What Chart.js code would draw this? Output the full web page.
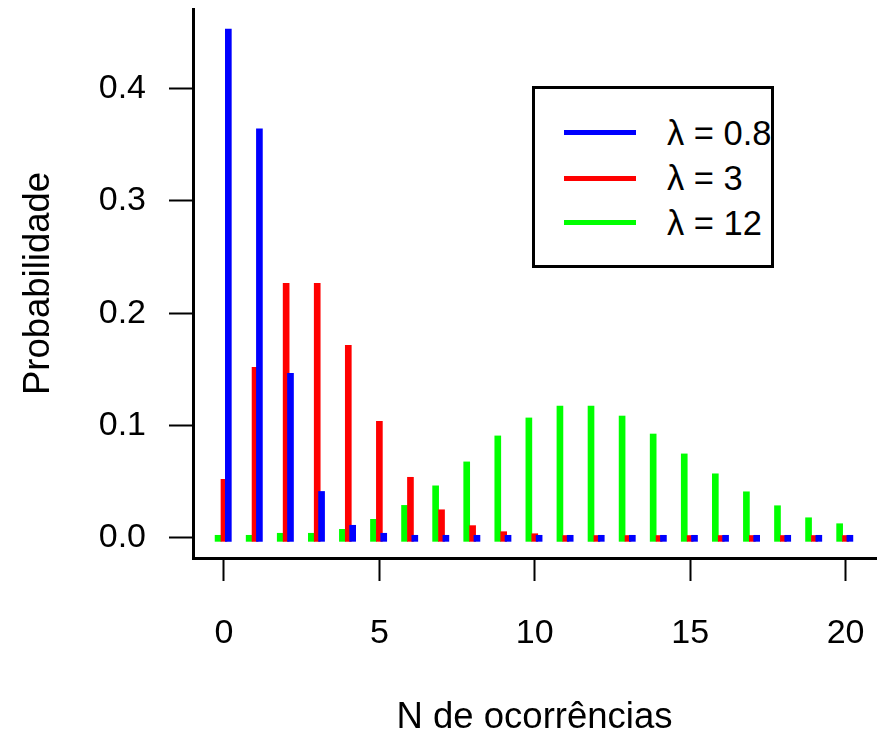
<!DOCTYPE html>
<html>
<head>
<meta charset="utf-8">
<script src="https://cdn.jsdelivr.net/npm/chart.js@4.4.1/dist/chart.umd.min.js"></script>
<style>
html,body{margin:0;padding:0;background:#fff;}
#wrap{position:relative;width:881px;height:736px;}
#chart{display:block;}
#legend{position:absolute;left:532px;top:86px;width:236px;height:176px;border:3px solid #000;background:#fff;
  font:34.5px "Liberation Sans",Arial,sans-serif;color:#000;}
#legend .sw{position:absolute;left:29px;width:72px;height:5px;}
#legend .lab{position:absolute;left:132px;line-height:40px;white-space:nowrap;}
</style>
</head>
<body>
<div id="wrap">
  <canvas id="chart" width="881" height="736"></canvas>
  <div id="legend"></div>
</div>
<script>
// valores (topo de cada barra)
const counts = [0,1,2,3,4,5,6,7,8,9,10,11,12,13,14,15,16,17,18,19,20];
const probLambda08 = [0.4528,0.3639,0.1465,0.0414,0.0113,0.0042,0.0024,0.0024,0.0024,0.0024,0.0024,
  0.0024,0.0024,0.0024,0.0024,0.0024,0.0024,0.0024,0.0024,0.0024,0.0024];
const probLambda3 = [0.0522,0.1519,0.2266,0.2266,0.1714,0.1038,0.0540,0.0251,0.0110,0.0056,0.0038,
  0.0022,0.0022,0.0022,0.0022,0.0022,0.0022,0.0022,0.0022,0.0022,0.0022];
const probLambda12 = [0.0024,0.0024,0.0042,0.0042,0.0077,0.0166,0.0290,0.0464,0.0677,0.0908,0.1068,
  0.1174,0.1174,0.1085,0.0925,0.0748,0.0571,0.0411,0.0287,0.0180,0.0127];
const seriesLabels = ['λ = 0.8','λ = 3','λ = 12'];
const seriesColors = ['#0000ff','#ff0000','#00ff00'];
const xTicks = [0,5,10,15,20];
const yTicks = [0,0.1,0.2,0.3,0.4];

const FONT = '"Liberation Sans", Arial, sans-serif';
const offsets = [0.14, 0, -0.19];   // deslocamento horizontal de cada série
const series = [probLambda08, probLambda3, probLambda12];

const datasets = series.map((vals,k)=>({
  label: seriesLabels[k],
  data: counts.map((c,i)=>({x:c+offsets[k], y:vals[i]})),
  backgroundColor: seriesColors[k],
  borderWidth: 0,
  barThickness: 6,
  grouped: false,
  base: -0.003
}));

const axisGrid = len=>({display:true, drawOnChartArea:false, drawTicks:true, offset:false,
  tickLength:len, tickWidth:2, tickColor:'#000'});
const noPad = s=>{ s.paddingTop = 0; s.paddingBottom = 0; s.paddingLeft = 0; s.paddingRight = 0; };

new Chart(document.getElementById('chart'), {
  type: 'bar',
  data: {datasets},
  options: {
    responsive: false,
    animation: false,
    layout: {padding:{top:9, right:5, left:0, bottom:0}},
    plugins: {legend:{display:false}, tooltip:{enabled:false}},
    scales: {
      x: {
        type: 'linear', min: -0.997, max: 20.98, offset: false,
        grid: axisGrid(23),
        border: {display:true, color:'#000', width:3},
        ticks: {color:'#000', font:{family:FONT, size:34}, padding:32, maxRotation:0, autoSkip:false},
        afterBuildTicks: s=>{ s.ticks = xTicks.map(v=>({value:v})); },
        afterFit: s=>{ s.height = 178; noPad(s); },
        title: {display:true, text:'N de ocorrências', color:'#000',
          font:{family:FONT, size:36.5, lineHeight:1}, padding:{top:0, bottom:0}}
      },
      y: {
        type: 'linear', min: -0.0178, max: 0.4706,
        grid: axisGrid(24),
        border: {display:true, color:'#000', width:3},
        ticks: {color:'#000', font:{family:FONT, size:34}, padding:23,
          callback: v=>Number(v).toFixed(1)},
        afterBuildTicks: s=>{ s.ticks = yTicks.map(v=>({value:v})); },
        afterFit: s=>{ s.width = 193; noPad(s); },
        title: {display:true, text:'Probabilidade', color:'#000',
          font:{family:FONT, size:36.5, lineHeight:1}, padding:{top:21, bottom:0}}
      }
    }
  }
});

// legenda em caixa, como no original
const leg = document.getElementById('legend');
const rowTops = [24, 69, 114], lineTops = [41, 87, 131];
seriesLabels.forEach((lab,k)=>{
  const sw = document.createElement('div'); sw.className='sw';
  sw.style.top = lineTops[k]+'px'; sw.style.background = seriesColors[k];
  const t = document.createElement('div'); t.className='lab';
  t.style.top = rowTops[k]+'px'; t.textContent = lab;
  leg.appendChild(sw); leg.appendChild(t);
});
</script>
</body>
</html>
